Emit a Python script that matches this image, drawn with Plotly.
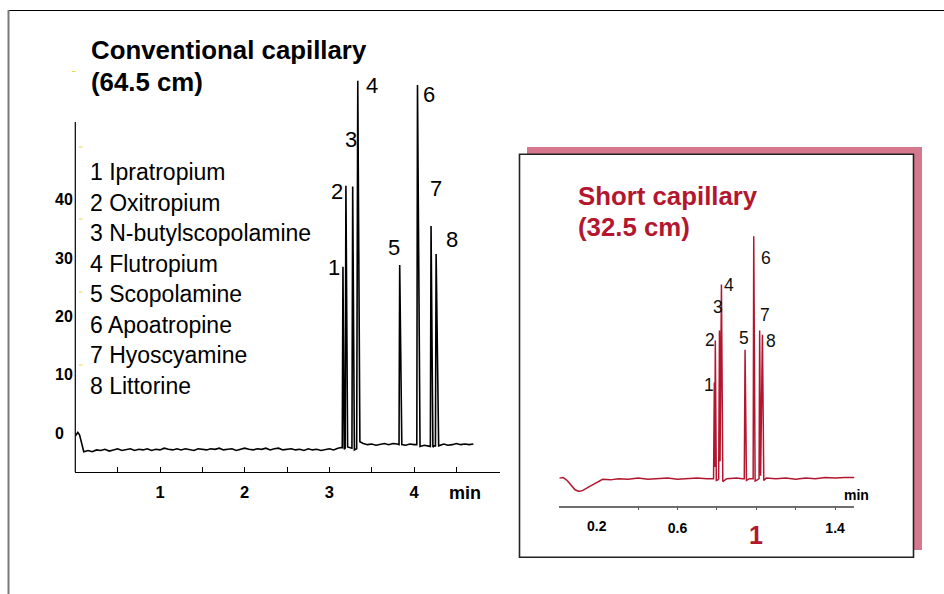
import plotly.graph_objects as go

# ---------------- DATA ----------------
# Conventional capillary (64.5 cm) electropherogram, time in min, signal in mAU
CONV_T = [0.00, 0.03, 0.05, 0.08, 0.10, 0.15, 0.20, 0.25, 0.30, 0.35, 0.40, 0.45,
          0.50, 0.55, 0.60, 0.65, 0.70, 0.75, 0.80, 0.85, 0.90, 0.95, 1.00, 1.05,
          1.10, 1.15, 1.20, 1.25, 1.30, 1.35, 1.40, 1.45, 1.50, 1.55, 1.60, 1.65,
          1.70, 1.75, 1.80, 1.85, 1.90, 1.95, 2.00, 2.05, 2.10, 2.15, 2.20, 2.25,
          2.30, 2.35, 2.40, 2.45, 2.50, 2.55, 2.60, 2.65, 2.70, 2.75, 2.80, 2.85,
          2.90, 2.95, 3.00, 3.05, 3.10,
          3.14, 3.152, 3.160, 3.175, 3.186, 3.195, 3.215, 3.24, 3.266, 3.275, 3.295,
          3.322, 3.335, 3.36, 3.40, 3.45, 3.50, 3.55, 3.60, 3.65, 3.70, 3.75, 3.80,
          3.822, 3.830, 3.855, 3.90, 3.95, 4.00, 4.032, 4.040, 4.07, 4.12, 4.17,
          4.192, 4.200, 4.222, 4.240, 4.252, 4.260, 4.29, 4.35, 4.40, 4.45, 4.50,
          4.55, 4.60, 4.65, 4.70]
CONV_Y = [-0.5, 0.1, -0.3, -2.4, -3.2, -3.0, -3.2, -2.9, -3.0, -2.8, -3.1, -2.9,
          -2.7, -3.0, -2.9, -2.7, -3.0, -2.8, -2.9, -2.7, -3.0, -2.8, -2.9, -2.6,
          -2.8, -2.9, -2.7, -2.9, -2.7, -2.8, -3.0, -2.7, -2.8, -2.9, -2.7, -2.8,
          -2.6, -2.9, -2.8, -2.7, -3.0, -2.8, -2.6, -2.8, -2.9, -2.7, -2.8, -2.6,
          -2.9, -2.7, -2.6, -2.9, -2.8, -2.7, -2.9, -2.8, -3.0, -2.7, -2.9, -2.8,
          -3.0, -2.8, -2.7, -2.9, -2.6,
          -2.5, -2.5, 28.5, -2.8, -2.6, 42.4, -2.4, -2.5, -2.6, 42.3, -2.9,
          -2.7, 60.4, -1.5, -1.8, -2.0, -1.9, -2.1, -2.0, -1.8, -2.0, -1.8, -1.9,
          -2.0, 28.8, -2.0, -2.1, -1.9, -2.0, -2.0, 59.7, -2.3, -2.1, -2.2,
          -2.3, 35.5, -2.4, -2.2, -2.2, 30.7, -2.2, -1.9, -2.1, -2.0, -1.8,
          -2.0, -1.9, -2.0, -1.9]
CONV_PEAK_T = [3.160, 3.195, 3.275, 3.335, 3.830, 4.040, 4.200, 4.260]
CONV_PEAK_H = [28.5, 42.4, 42.3, 60.4, 28.8, 59.7, 35.5, 30.7]

# Short capillary (32.5 cm) electropherogram
SHORT_T = [0.00, 0.02, 0.04, 0.06, 0.08, 0.10, 0.12, 0.15, 0.18, 0.20, 0.22, 0.26,
           0.30, 0.35, 0.40, 0.45, 0.50, 0.55, 0.60, 0.65, 0.70, 0.75, 0.780,
           0.783, 0.787, 0.789, 0.792, 0.797, 0.805, 0.809, 0.813, 0.816, 0.823,
           0.830, 0.850, 0.900, 0.930, 0.939, 0.943, 0.950, 0.965, 0.980, 0.984,
           0.987, 0.994, 1.005, 1.012, 1.014, 1.017, 1.022, 1.031, 1.038, 1.050,
           1.10, 1.15, 1.20, 1.25, 1.30, 1.35, 1.40, 1.45, 1.50]
SHORT_Y = [0.1, 0.2, -0.3, -1.2, -1.9, -2.2, -2.0, -1.4, -0.8, -0.4, -0.1, -0.2,
           0.0, -0.1, 0.1, -0.1, 0.0, 0.1, -0.1, 0.0, 0.1, 0.0, 0.0,
           0.0, 16.5, 2.0, 23.7, -0.3, -0.2, 0.0, 25.4, 3.0, 33.3,
           -0.5, 0.0, 0.1, 0.0, 0.0, 22.1, -0.3, 0.0, -0.1, 0.0,
           41.6, -0.4, -0.2, 0.0, 0.0, 25.4, 0.5, 24.7, -0.3, 0.1,
           0.0, 0.1, -0.1, 0.1, 0.0, 0.2, 0.1, 0.2, 0.2]
SHORT_PEAK_T = [0.787, 0.792, 0.813, 0.823, 0.943, 0.987, 1.017, 1.031]
SHORT_PEAK_H = [16.5, 23.7, 25.4, 33.3, 22.1, 41.6, 25.4, 24.7]

PEAK_NUMBERS = ["1", "2", "3", "4", "5", "6", "7", "8"]
COMPOUNDS = ["Ipratropium", "Oxitropium", "N-butylscopolamine", "Flutropium",
             "Scopolamine", "Apoatropine", "Hyoscyamine", "Littorine"]

CONV_XTICKS = [0.5, 1, 1.5, 2, 2.5, 3, 3.5, 4, 4.5]
CONV_XTICKTEXT = ["", "1", "", "2", "", "3", "", "4", ""]
CONV_YTICKS = [0, 10, 20, 30, 40]
SHORT_XTICKS = [0.4, 0.6, 0.8, 1.0, 1.2, 1.4]
SHORT_XTICKTEXT = ["", "0.6", "", "", "", "1.4"]

# ---------------- STYLE ----------------
W, H = 944, 594
FONT = "Liberation Sans, Arial, Helvetica, sans-serif"
RED = "#b3172f"


def px(x):
    return x / W


def py(y):
    return 1 - y / H


# label offsets (pixels) relative to each peak apex
CONV_LABEL_DX = [-9, -9, -2, 14, -6, 12, 5, 16]
CONV_LABEL_DY = [-1, -6, 47, -5, 18, -10, 38, 15]
SHORT_LABEL_DX = [-5, -5, -1, 8, -1, 12, 5, 9]
SHORT_LABEL_DY = [-2, 1, 24, 0, 12, -22, 16, -6]

fig = go.Figure()
fig.add_trace(go.Scatter(x=CONV_T, y=CONV_Y, mode="lines",
                         line=dict(color="black", width=1.6),
                         xaxis="x", yaxis="y", hoverinfo="skip"))
fig.add_trace(go.Scatter(x=SHORT_T, y=SHORT_Y, mode="lines",
                         line=dict(color=RED, width=1.5),
                         xaxis="x2", yaxis="y2", hoverinfo="skip"))

shapes = []
# outer frame
shapes.append(dict(type="line", xref="paper", yref="paper",
                   x0=px(8.5), x1=px(944), y0=py(10.5), y1=py(10.5),
                   line=dict(color="black", width=1.2)))
shapes.append(dict(type="line", xref="paper", yref="paper",
                   x0=px(8.5), x1=px(8.5), y0=py(10), y1=py(594),
                   line=dict(color="#7a7a7a", width=2)))
# left y-axis line
shapes.append(dict(type="line", xref="paper", yref="paper",
                   x0=px(75.3), x1=px(75.3), y0=py(122), y1=py(472),
                   line=dict(color="black", width=1.2)))
# yellow tick artefacts
for yy in [147, 219, 292, 365]:
    shapes.append(dict(type="line", xref="paper", yref="paper",
                       x0=px(79), x1=px(82.5), y0=py(yy), y1=py(yy),
                       line=dict(color="#e8d448", width=1)))
shapes.append(dict(type="line", xref="paper", yref="paper",
                   x0=px(72), x1=px(75.5), y0=py(71.5), y1=py(71.5),
                   line=dict(color="#e8d448", width=1)))
# inset shadow + box
shapes.append(dict(type="rect", xref="paper", yref="paper", layer="below",
                   x0=px(527), x1=px(922), y0=py(147), y1=py(550),
                   fillcolor="#d6788d", line=dict(width=0)))
shapes.append(dict(type="rect", xref="paper", yref="paper", layer="below",
                   x0=px(519.5), x1=px(913.5), y0=py(154.3), y1=py(557.3),
                   fillcolor="white", line=dict(color="#222222", width=1.6)))

ann = []
# titles
for txt, yy in [("Conventional capillary", 50), ("(64.5 cm)", 82)]:
    ann.append(dict(text=txt, x=px(89), y=py(yy), xref="paper", yref="paper",
                    xanchor="left", yanchor="middle", showarrow=False,
                    font=dict(family=FONT, size=25.8, color="black", weight="bold")))
for txt, yy in [("Short capillary", 196), ("(32.5 cm)", 227)]:
    ann.append(dict(text=txt, x=px(576), y=py(yy), xref="paper", yref="paper",
                    xanchor="left", yanchor="middle", showarrow=False,
                    font=dict(family=FONT, size=25.8, color=RED, weight="bold")))
# compound list
for i, (num, name) in enumerate(zip(PEAK_NUMBERS, COMPOUNDS)):
    ann.append(dict(text=f"{num} {name}", x=px(87.5), y=py(172 + i * 30.57),
                    xref="paper", yref="paper", xanchor="left", yanchor="middle",
                    showarrow=False, font=dict(family=FONT, size=23, color="black")))
# y tick labels of the conventional trace (left aligned as in the original)
for v in CONV_YTICKS:
    ann.append(dict(text=str(v), x=px(52.5), y=v, xref="paper", yref="y",
                    xanchor="left", yanchor="middle", showarrow=False,
                    font=dict(family=FONT, size=16, color="black", weight="bold")))
# peak labels
for i, num in enumerate(PEAK_NUMBERS):
    ann.append(dict(text=num, x=CONV_PEAK_T[i], y=CONV_PEAK_H[i], xref="x", yref="y",
                    xshift=CONV_LABEL_DX[i], yshift=CONV_LABEL_DY[i],
                    xanchor="center", yanchor="middle", showarrow=False,
                    font=dict(family=FONT, size=22, color="black")))
    ann.append(dict(text=num, x=SHORT_PEAK_T[i], y=SHORT_PEAK_H[i], xref="x2", yref="y2",
                    xshift=SHORT_LABEL_DX[i], yshift=SHORT_LABEL_DY[i],
                    xanchor="center", yanchor="middle", showarrow=False,
                    font=dict(family=FONT, size=17.5, color="#111111")))
# axis unit labels
ann.append(dict(text="min", x=px(465), y=py(492.5), xref="paper", yref="paper",
                showarrow=False, xanchor="center", yanchor="middle",
                font=dict(family=FONT, size=18, color="black", weight="bold")))
ann.append(dict(text="min", x=px(856), y=py(495.5), xref="paper", yref="paper",
                showarrow=False, xanchor="center", yanchor="middle",
                font=dict(family=FONT, size=14, color="black", weight="bold")))
ann.append(dict(text="0.2", x=0.19, y=py(526), xref="x2", yref="paper",
                showarrow=False, xanchor="center", yanchor="middle",
                font=dict(family=FONT, size=14, color="black", weight="bold")))
ann.append(dict(text="1", x=1.0, y=py(535), xref="x2", yref="paper",
                showarrow=False, xanchor="center", yanchor="middle",
                font=dict(family=FONT, size=25, color=RED, weight="bold")))

# axis geometry (pixels)
cx0, cx1, c_pxmin = 75.3, 500, 84.7
cy_bot, cy_top, cy0, c_pxunit = 472, 78, 433, 5.83
sx0, sx1, s_pxmin = 559.3, 854.3, 197.0
sy_bot, sy_top, sy0 = 505.7, 230, 478.7

fig.update_layout(
    width=W, height=H, margin=dict(l=0, r=0, t=0, b=0),
    paper_bgcolor="white", plot_bgcolor="rgba(0,0,0,0)", showlegend=False,
    shapes=shapes, annotations=ann,
    xaxis=dict(domain=[px(cx0), px(cx1)], range=[0, (cx1 - cx0) / c_pxmin],
               anchor="y", showline=True, linecolor="black", linewidth=1.2,
               ticks="inside", ticklen=5, tickcolor="black", tickwidth=1,
               tickmode="array", tickvals=CONV_XTICKS, ticktext=CONV_XTICKTEXT,
               tickfont=dict(family=FONT, size=16.5, color="black", weight="bold"),
               ticklabelstandoff=5, showgrid=False, zeroline=False, fixedrange=True),
    yaxis=dict(domain=[py(cy_bot), py(cy_top)],
               range=[-(cy_bot - cy0) / c_pxunit, (cy0 - cy_top) / c_pxunit],
               anchor="x", showline=False, ticks="", showticklabels=False,
               showgrid=False, zeroline=False, fixedrange=True),
    xaxis2=dict(domain=[px(sx0), px(sx1)], range=[0, (sx1 - sx0) / s_pxmin],
                anchor="y2", showline=True, linecolor="#6f6f6f", linewidth=1.5,
                ticks="outside", ticklen=3, tickcolor="#555555", tickwidth=1,
                tickmode="array", tickvals=SHORT_XTICKS, ticktext=SHORT_XTICKTEXT,
                tickfont=dict(family=FONT, size=14, color="black", weight="bold"),
                ticklabelstandoff=6, showgrid=False, zeroline=False, fixedrange=True),
    yaxis2=dict(domain=[py(sy_bot), py(sy_top)],
                range=[-(sy_bot - sy0) / c_pxunit, (sy0 - sy_top) / c_pxunit],
                anchor="x2", visible=False, fixedrange=True),
)

fig.write_html("out.html")
